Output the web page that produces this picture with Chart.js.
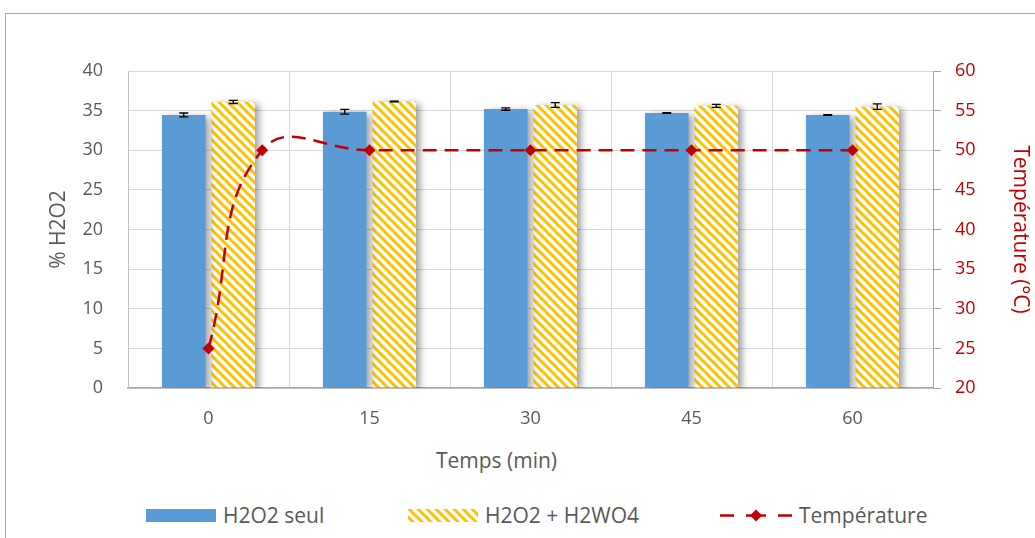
<!DOCTYPE html>
<html>
<head>
<meta charset="utf-8">
<script src="https://cdn.jsdelivr.net/npm/chart.js@4.4.1/dist/chart.umd.min.js"></script>
<style>
  html, body { margin: 0; padding: 0; background: #fff; }
  body { width: 1035px; height: 538px; position: relative; overflow: hidden; font-family: "Open Sans", sans-serif; }
  #frame { position: absolute; left: 5px; top: 13px; width: 1100px; height: 600px; border: 1px solid #a6a6a6; }
  #chart { position: absolute; left: 0; top: 0; }
  #xtitle { position: absolute; top: 446px; left: 0; width: 993px; text-align: center; font-size: 21px; line-height: 29px; color: #595959; }
  .leg { position: absolute; top: 500px; height: 29px; display: flex; align-items: center; font-size: 21px; color: #595959; }
  .leg canvas { margin-right: 7px; }
</style>
</head>
<body>
<div id="frame"></div>
<canvas id="chart" width="1035" height="430"></canvas>
<div id="xtitle">Temps (min)</div>
<div class="leg" style="left:146px"><canvas id="lg1" width="70" height="14"></canvas>H2O2 seul</div>
<div class="leg" style="left:408px"><canvas id="lg2" width="70" height="14"></canvas>H2O2 + H2WO4</div>
<div class="leg" style="left:720px"><canvas id="lg3" width="72" height="14"></canvas>Température</div>
<script>
// ---- data ----
const categories = ['0', '15', '30', '45', '60'];
const seulValues = [34.45, 34.85, 35.2, 34.7, 34.45];
const seulErrors = [0.25, 0.3, 0.15, 0.05, 0.05];
const wo4Values = [36.1, 36.15, 35.7, 35.6, 35.5];
const wo4Errors = [0.2, 0.05, 0.3, 0.2, 0.35];
const tempTimes = [0, 5, 15, 30, 45, 60];
const tempValues = [25, 50, 50, 50, 50, 50];
const leftTicks = [0, 5, 10, 15, 20, 25, 30, 35, 40];
const rightTicks = [20, 25, 30, 35, 40, 45, 50, 55, 60];

const BLUE = '#5B9BD5', YELLOW = '#FFC000', RED = '#C00000', GREY = '#595959';

function makeHatch() {
  const n = 9;
  const c = document.createElement('canvas');
  c.width = n; c.height = n;
  const g = c.getContext('2d');
  g.fillStyle = '#fff'; g.fillRect(0, 0, n, n);
  g.strokeStyle = YELLOW; g.lineWidth = 3;
  g.beginPath();
  g.moveTo(-n, -n); g.lineTo(2 * n, 2 * n);
  g.moveTo(-n, 0); g.lineTo(n, 2 * n);
  g.moveTo(0, -n); g.lineTo(2 * n, n);
  g.stroke();
  return g.createPattern(c, 'repeat');
}
const ctx = document.getElementById('chart').getContext('2d');
const hatch = makeHatch();

const shadowPlugin = {
  id: 'barShadow',
  beforeDatasetDraw(chart, args) {
    if (chart.data.datasets[args.index].type === 'bar') {
      const c = chart.ctx;
      c.save();
      c.shadowColor = 'rgba(0,0,0,0.38)';
      c.shadowBlur = 7;
      c.shadowOffsetX = 4;
      c.shadowOffsetY = 2;
    }
  },
  afterDatasetDraw(chart, args) {
    if (chart.data.datasets[args.index].type === 'bar') chart.ctx.restore();
  }
};

const errorPlugin = {
  id: 'errorBars',
  afterDatasetDraw(chart, args) {
    const ds = chart.data.datasets[args.index];
    if (!ds.errors) return;
    const meta = chart.getDatasetMeta(args.index);
    const ys = chart.scales.y;
    const c = chart.ctx;
    c.save();
    c.strokeStyle = '#000'; c.lineWidth = 1.3;
    meta.data.forEach((bar, i) => {
      const v = ds.data[i], e = ds.errors[i];
      const y1 = ys.getPixelForValue(v + e), y2 = ys.getPixelForValue(v - e);
      const x = bar.x;
      c.beginPath();
      c.moveTo(x, y1); c.lineTo(x, y2);
      c.moveTo(x - 4.5, y1); c.lineTo(x + 4.5, y1);
      c.moveTo(x - 4.5, y2); c.lineTo(x + 4.5, y2);
      c.stroke();
    });
    c.restore();
  }
};

const tickFont = { family: 'Open Sans', size: 18 };
const titleFont = { family: 'Open Sans', size: 21 };

// Chart.js 4.4 reserves slots per value axis (y and y2), hence the doubled category share
new Chart(ctx, {
  type: 'bar',
  data: {
    labels: categories,
    datasets: [
      {
        type: 'line', label: 'Température', xAxisID: 'xt', yAxisID: 'y2', order: 0,
        data: tempTimes.map((t, i) => ({ x: t, y: tempValues[i] })),
        borderColor: RED, backgroundColor: RED, borderWidth: 2.5, borderDash: [14, 8],
        pointStyle: 'rectRot', pointRadius: 6, pointBorderWidth: 0, tension: 0.45,
        fill: false
      },
      {
        type: 'bar', label: 'H2O2 seul', xAxisID: 'x', yAxisID: 'y', order: 1,
        data: seulValues, errors: seulErrors, backgroundColor: BLUE,
        categoryPercentage: 1.23, barPercentage: 0.88
      },
      {
        type: 'bar', label: 'H2O2 + H2WO4', xAxisID: 'x', yAxisID: 'y', order: 1,
        data: wo4Values, errors: wo4Errors, backgroundColor: hatch,
        categoryPercentage: 1.23, barPercentage: 0.88
      }
    ]
  },
  options: {
    responsive: false,
    animation: false,
    layout: { padding: { left: 44, right: 0, top: 71, bottom: 0 } },
    plugins: { legend: { display: false }, tooltip: { enabled: false } },
    scales: {
      x: {
        type: 'category', offset: true,
        grid: { color: '#d9d9d9', lineWidth: 1, offset: true, drawTicks: false },
        border: { color: '#a6a6a6', width: 1.5 },
        ticks: { font: tickFont, color: GREY, padding: 20 },
        afterFit(s) { s.height = 42; }
      },
      xt: {
        type: 'linear', display: false, offset: false, min: -7.5, max: 67.5,
        grid: { offset: false }
      },
      y: {
        position: 'left', min: 0, max: 40,
        afterBuildTicks(s) { s.ticks = leftTicks.map(v => ({ value: v })); },
        grid: { color: '#d9d9d9', drawTicks: false },
        border: { color: '#bfbfbf' },
        ticks: { font: tickFont, color: GREY, padding: 25 },
        title: { display: true, text: '% H2O2', font: titleFont, color: GREY, padding: { top: 2, bottom: 2 } },
        afterFit(s) { s.width = 84; }
      },
      y2: {
        position: 'right', min: 20, max: 60,
        afterBuildTicks(s) { s.ticks = rightTicks.map(v => ({ value: v })); },
        grid: { drawOnChartArea: false, color: '#a6a6a6', tickLength: 8 },
        border: { color: '#a6a6a6' },
        ticks: { font: tickFont, color: RED, padding: 14 },
        title: { display: true, text: 'Température (°C)', font: titleFont, color: RED, padding: { top: 2, bottom: 2 } },
        afterFit(s) { s.width = 102; }
      }
    }
  },
  plugins: [shadowPlugin, errorPlugin]
});

// ---- legend swatches ----
(function () {
  const a = document.getElementById('lg1').getContext('2d');
  a.fillStyle = BLUE; a.fillRect(0, 1, 70, 13);
  const b = document.getElementById('lg2').getContext('2d');
  b.fillStyle = makeHatch(); b.fillRect(0, 1, 70, 13);
  const l = document.getElementById('lg3').getContext('2d');
  l.strokeStyle = RED; l.lineWidth = 2.5;
  l.beginPath();
  l.moveTo(0, 7.5); l.lineTo(14, 7.5);
  l.moveTo(26, 7.5); l.lineTo(46, 7.5);
  l.moveTo(58, 7.5); l.lineTo(72, 7.5);
  l.stroke();
  l.fillStyle = RED;
  l.beginPath();
  l.moveTo(36, 1.5); l.lineTo(42, 7.5); l.lineTo(36, 13.5); l.lineTo(30, 7.5); l.closePath();
  l.fill();
})();
</script>
</body>
</html>
